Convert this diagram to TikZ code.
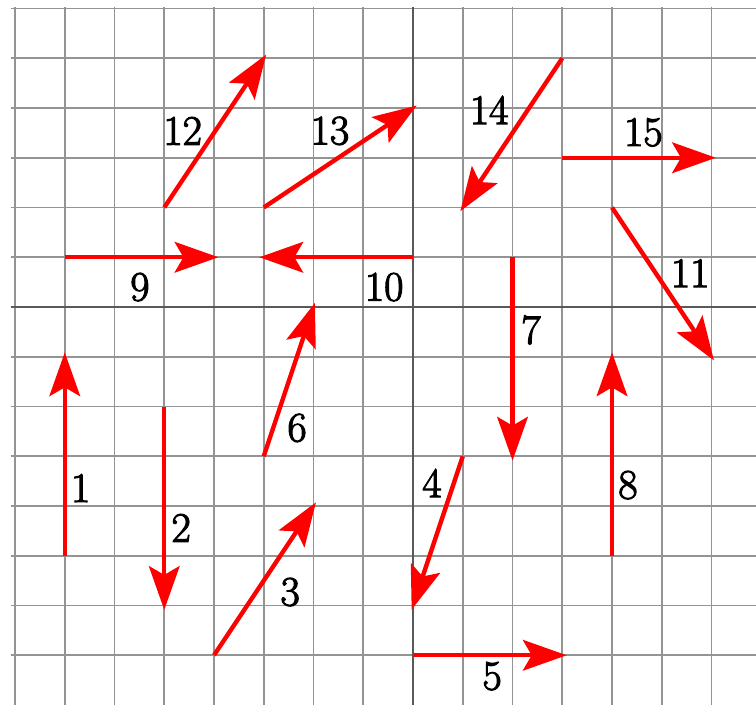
\documentclass[tikz,border=0pt]{standalone}
\usepackage{fontspec}
\newfontfamily\lblfont{Latin Modern Roman}[FakeBold=2.6]
\usetikzlibrary{arrows.meta}
\begin{document}
\begin{tikzpicture}[x=1cm,y=1cm,
  gridline/.style={draw=black!42, line width=1pt},
  axisline/.style={draw=black!65, line width=1.2pt},
  vec/.style={draw=red, line width=2.5pt, -{Stealth[length=25pt,width=17.5pt,inset=5pt]}, shorten >=-2.5pt},
  lbl/.style={font=\lblfont\fontsize{24}{28}\selectfont, inner sep=0pt, text=black}]
\useasboundingbox (-8.302,-7.98) rectangle (6.894,6.171);
\begin{scope}
\clip (-8.302,-7.98) rectangle (6.894,6.171);
\foreach \i in {-8,...,6} \draw[gridline] (\i,6.04) -- (\i,-8.1);
\foreach \j in {-7,...,6} \draw[gridline] (-8.09,\j) -- (7,\j);
\draw[axisline] (0,6.04) -- (0,-8.1);
\draw[axisline] (-8.09,0) -- (7,0);
\end{scope}
% arrow end points
\coordinate (s1) at (-7,-5);  \coordinate (e1) at (-7,-1);
\coordinate (s2) at (-5,-2);  \coordinate (e2) at (-5,-6);
\coordinate (s3) at (-4,-7);  \coordinate (e3) at (-2,-4);
\coordinate (s4) at (1,-3);   \coordinate (e4) at (0,-6);
\coordinate (s5) at (0,-7);   \coordinate (e5) at (3,-7);
\coordinate (s6) at (-3,-3);  \coordinate (e6) at (-2,0);
\coordinate (s7) at (2,1);    \coordinate (e7) at (2,-3);
\coordinate (s8) at (4,-5);   \coordinate (e8) at (4,-1);
\coordinate (s9) at (-7,1);   \coordinate (e9) at (-4,1);
\coordinate (s10) at (0,1);   \coordinate (e10) at (-3,1);
\coordinate (s11) at (4,2);   \coordinate (e11) at (6,-1);
\coordinate (s12) at (-5,2);  \coordinate (e12) at (-3,5);
\coordinate (s13) at (-3,2);  \coordinate (e13) at (0,4);
\coordinate (s14) at (3,5);   \coordinate (e14) at (1,2);
\coordinate (s15) at (3,3);   \coordinate (e15) at (6,3);
\foreach \k in {1,...,15} \draw[vec] (s\k) -- (e\k);
% labels
\node[lbl] (l1) at (-6.68,-3.64) {1};
\node[lbl] (l2) at (-4.66,-4.44) {2};
\node[lbl] (l3) at (-2.47,-5.73) {3};
\node[lbl] (l4) at (0.38,-3.54) {4};
\node[lbl] (l5) at (1.59,-7.42) {5};
\node[lbl] (l6) at (-2.33,-2.43) {6};
\node[lbl] (l7) at (2.37,-0.46) {7};
\node[lbl] (l8) at (4.32,-3.58) {8};
\node[lbl] (l9) at (-5.49,0.40) {9};
\node[lbl] (l10) at (-0.58,0.40) {10};
\node[lbl] (l11) at (5.57,0.68) {11};
\node[lbl] (l12) at (-4.63,3.54) {12};
\node[lbl] (l13) at (-1.67,3.54) {13};
\node[lbl] (l14) at (1.53,3.96) {14};
\node[lbl] (l15) at (4.63,3.51) {15};
\end{tikzpicture}
\end{document}
